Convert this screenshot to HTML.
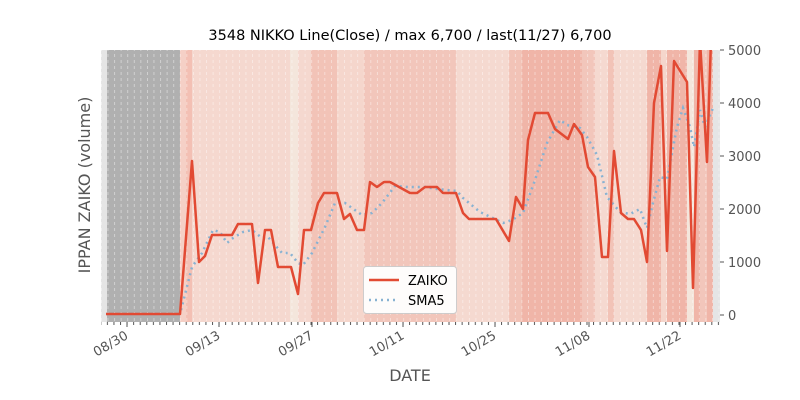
<!DOCTYPE html>
<html><head><style>body{margin:0;background:#fff}svg{display:block}text{font-family:"DejaVu Sans","Liberation Sans",sans-serif}</style></head><body>
<svg width="800" height="400" viewBox="0 0 800 400">
<defs><pattern id="g" x="101" y="0" width="6.57" height="6" patternUnits="userSpaceOnUse"><rect x="0" y="0" width="0.8" height="3" fill="#fff" opacity="0.5"/></pattern>
<pattern id="mt" x="100.3" y="0" width="6.57" height="3" patternUnits="userSpaceOnUse"><rect x="0" y="0" width="1" height="3" fill="#555"/></pattern></defs>
<rect x="101" y="50" width="619" height="272" fill="#e5e5e5"/>
<rect x="107" y="50" width="73" height="272" fill="#b0b0b0"/>
<g>
<rect x="180" y="50" width="6" height="272" fill="#f5d0c6"/>
<rect x="186" y="50" width="6" height="272" fill="#f3c0b4"/>
<rect x="192" y="50" width="98" height="272" fill="#f5d8cf"/>
<rect x="290" y="50" width="8" height="272" fill="#f4e6dc"/>
<rect x="298" y="50" width="13" height="272" fill="#f5d8cf"/>
<rect x="311" y="50" width="26" height="272" fill="#f2c3b7"/>
<rect x="337" y="50" width="27" height="272" fill="#f5d6cc"/>
<rect x="364" y="50" width="92" height="272" fill="#f2c6bb"/>
<rect x="456" y="50" width="53" height="272" fill="#f5d9d0"/>
<rect x="509" y="50" width="13" height="272" fill="#f2c3b7"/>
<rect x="522" y="50" width="60" height="272" fill="#f0b5a8"/>
<rect x="582" y="50" width="13" height="272" fill="#f2c6bb"/>
<rect x="595" y="50" width="13" height="272" fill="#f5d9d0"/>
<rect x="608" y="50" width="6" height="272" fill="#f2c3b7"/>
<rect x="614" y="50" width="33" height="272" fill="#f5d9d0"/>
<rect x="647" y="50" width="14" height="272" fill="#f0b5a8"/>
<rect x="661" y="50" width="6" height="272" fill="#f5d6cc"/>
<rect x="667" y="50" width="20" height="272" fill="#f0b5a8"/>
<rect x="687" y="50" width="7" height="272" fill="#f4e6dc"/>
<rect x="694" y="50" width="6" height="272" fill="#f0b5a8"/>
<rect x="700" y="50" width="7" height="272" fill="#f2c6bb"/>
<rect x="707" y="50" width="6" height="272" fill="#f0b5a8"/>
</g>
<rect x="101" y="50" width="619" height="272" fill="url(#g)"/>
<rect x="101" y="322" width="619" height="3" fill="url(#mt)"/>
<g fill="none" stroke="#88b2d2" stroke-width="2.5" stroke-dasharray="2,4">
<polyline points="106,314 180,314 192,267 202,253 213,230 220,232 227,243 233,238 243,232 252,230 262,238 268,237 282,253 290,253 298,263 303,265 312,253 325,227 335,203 345,203 362,215 372,213 382,203 395,186 408,187 425,187 437,189 457,191 463,198 480,212 497,220 503,223 512,220 523,213 535,180 547,143 560,120 567,125 580,128 587,137 597,155 607,197 620,212 630,214 640,209 647,228 653,203 660,177 667,179 677,127 683,108 690,127 694,147 700,110 705,127 713,108"/>
</g>
<svg x="101" y="50" width="619" height="272" viewBox="101 50 619 272">
<polyline fill="none" stroke="#e24a33" stroke-width="2.5" stroke-linejoin="round" points="106,314 180,314 192,161 199,262 205,256 212,235 232,235 238,224 252,224 258,283 265,230 271,230 278,267 291,267 298,294 304,230 311,230 318,203 324,193 337,193 344,219 350,214 357,230 364,230 370,182 377,187 384,182 390,182 410,193 417,193 425,187 437,187 443,193 456,193 463,213 469,219 496,219 509,241 516,197 523,209 528,140 535,113 548,113 555,129 568,139 574,124 582,135 588,167 595,177 602,257 608,257 614,151 621,213 628,219 634,219 641,230 647,262 654,103 661,66 667,251 674,61 687,82 693,288 700,40 707,162 711,40"/>
</svg>
<g fill="#555" font-size="13">
<text x="410" y="40" text-anchor="middle" fill="#000" font-size="14.5">3548 NIKKO Line(Close) / max 6,700 / last(11/27) 6,700</text>
<g stroke="#555" stroke-width="1"><line x1="720" y1="50" x2="724" y2="50"/><line x1="720" y1="103" x2="724" y2="103"/><line x1="720" y1="156" x2="724" y2="156"/><line x1="720" y1="209" x2="724" y2="209"/><line x1="720" y1="262" x2="724" y2="262"/><line x1="720" y1="315" x2="724" y2="315"/></g>
<text x="728" y="55">5000</text><text x="728" y="108">4000</text><text x="728" y="161">3000</text><text x="728" y="214">2000</text><text x="728" y="267">1000</text><text x="728" y="320">0</text>
<g stroke="#555"><line x1="127" y1="322" x2="127" y2="327"/><line x1="219" y1="322" x2="219" y2="327"/><line x1="312" y1="322" x2="312" y2="327"/><line x1="403" y1="322" x2="403" y2="327"/><line x1="495" y1="322" x2="495" y2="327"/><line x1="589" y1="322" x2="589" y2="327"/><line x1="680" y1="322" x2="680" y2="327"/></g>
<g text-anchor="end">
<text transform="translate(129,338) rotate(-30)">08/30</text>
<text transform="translate(221,338) rotate(-30)">09/13</text>
<text transform="translate(314,338) rotate(-30)">09/27</text>
<text transform="translate(405,338) rotate(-30)">10/11</text>
<text transform="translate(497,338) rotate(-30)">10/25</text>
<text transform="translate(591,338) rotate(-30)">11/08</text>
<text transform="translate(682,338) rotate(-30)">11/22</text>
</g>
<text x="410" y="381" text-anchor="middle" font-size="16">DATE</text>
<text transform="translate(90,185) rotate(-90)" text-anchor="middle" font-size="16">IPPAN ZAIKO (volume)</text>
</g>
<rect x="363.5" y="266.5" width="93" height="47" rx="3" fill="#fff" stroke="#ccc" opacity="0.95"/>
<line x1="369" y1="280" x2="399" y2="280" stroke="#e24a33" stroke-width="2.5"/>
<line x1="369" y1="300" x2="399" y2="300" stroke="#88b2d2" stroke-width="2.5" stroke-dasharray="2,4"/>
<text x="408" y="285" font-size="13" fill="#000">ZAIKO</text>
<text x="408" y="305" font-size="13" fill="#000">SMA5</text>
</svg>
</body></html>
